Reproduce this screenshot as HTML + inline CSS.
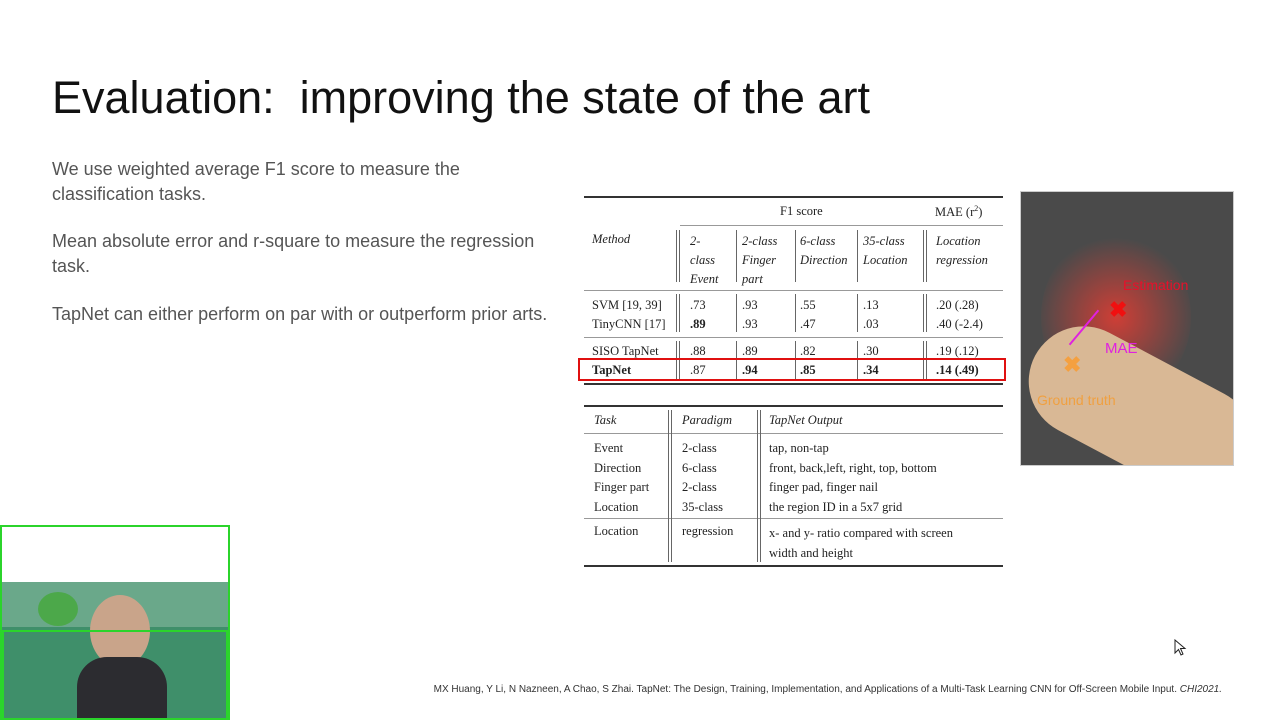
<!DOCTYPE html>
<html><head><meta charset="utf-8"><style>
body{margin:0;width:1280px;height:720px;background:#fff;position:relative;overflow:hidden;font-family:"Liberation Sans",sans-serif}
.a{position:absolute;white-space:nowrap}
.t{font-family:"Liberation Serif",serif;font-size:12.5px;color:#222}
.i{font-style:italic}
.b{font-weight:bold}
.hr{position:absolute;background:#333;height:1px}
.vr{position:absolute;width:1px;background:#666}
.p{color:#555;font-size:18px;line-height:25px}
</style></head><body>
<div class="a" style="left:52px;top:72px;font-size:45px;color:#111">Evaluation:&nbsp; improving the state of the art</div>
<div class="a p" style="left:52px;top:157px">We use weighted average F1 score to measure the<br>classification tasks.</div>
<div class="a p" style="left:52px;top:229px">Mean absolute error and r-square to measure the regression<br>task.</div>
<div class="a p" style="left:52px;top:302px">TapNet can either perform on par with or outperform prior arts.</div>

<div>
<div class="hr" style="left:584px;top:196px;width:419px;height:1.5px"></div>
<div class="a t" style="left:780px;top:204px">F1 score</div>
<div class="a t" style="left:935px;top:204px">MAE (r<sup style="font-size:8px">2</sup>)</div>
<div class="hr" style="left:680px;top:225px;width:323px;background:#999"></div>
<div class="a t i" style="left:592px;top:232px">Method</div>
<div class="a t i" style="left:690px;top:232px;line-height:19px">2-<br>class<br>Event</div>
<div class="a t i" style="left:742px;top:232px;line-height:19px">2-class<br>Finger<br>part</div>
<div class="a t i" style="left:800px;top:232px;line-height:19px">6-class<br>Direction</div>
<div class="a t i" style="left:863px;top:232px;line-height:19px">35-class<br>Location</div>
<div class="a t i" style="left:936px;top:232px;line-height:19px">Location<br>regression</div>
<div class="hr" style="left:584px;top:290px;width:419px;background:#999"></div>
<div class="a t" style="left:592px;top:296px;line-height:19px">SVM [19, 39]<br>TinyCNN [17]</div>
<div class="a t" style="left:690px;top:296px;line-height:19px">.73<br><b>.89</b></div>
<div class="a t" style="left:742px;top:296px;line-height:19px">.93<br>.93</div>
<div class="a t" style="left:800px;top:296px;line-height:19px">.55<br>.47</div>
<div class="a t" style="left:863px;top:296px;line-height:19px">.13<br>.03</div>
<div class="a t" style="left:936px;top:296px;line-height:19px">.20 (.28)<br>.40 (-2.4)</div>
<div class="hr" style="left:584px;top:337px;width:419px;background:#999"></div>
<div class="a t" style="left:592px;top:342px;line-height:19px">SISO TapNet<br><b>TapNet</b></div>
<div class="a t" style="left:690px;top:342px;line-height:19px">.88<br>.87</div>
<div class="a t" style="left:742px;top:342px;line-height:19px">.89<br><b>.94</b></div>
<div class="a t" style="left:800px;top:342px;line-height:19px">.82<br><b>.85</b></div>
<div class="a t" style="left:863px;top:342px;line-height:19px">.30<br><b>.34</b></div>
<div class="a t" style="left:936px;top:342px;line-height:19px">.19 (.12)<br><b>.14 (.49)</b></div>
<div class="hr" style="left:584px;top:383px;width:419px;height:1.5px"></div>
<div class="vr" style="left:676px;top:230px;height:52px"></div><div class="vr" style="left:679px;top:230px;height:52px"></div>
<div class="vr" style="left:736px;top:230px;height:52px"></div>
<div class="vr" style="left:795px;top:230px;height:52px"></div>
<div class="vr" style="left:857px;top:230px;height:52px"></div>
<div class="vr" style="left:923px;top:230px;height:52px"></div><div class="vr" style="left:926px;top:230px;height:52px"></div>
<div class="vr" style="left:676px;top:294px;height:38px"></div><div class="vr" style="left:679px;top:294px;height:38px"></div>
<div class="vr" style="left:736px;top:294px;height:38px"></div><div class="vr" style="left:795px;top:294px;height:38px"></div><div class="vr" style="left:857px;top:294px;height:38px"></div>
<div class="vr" style="left:923px;top:294px;height:38px"></div><div class="vr" style="left:926px;top:294px;height:38px"></div>
<div class="vr" style="left:676px;top:341px;height:38px"></div><div class="vr" style="left:679px;top:341px;height:38px"></div>
<div class="vr" style="left:736px;top:341px;height:38px"></div><div class="vr" style="left:795px;top:341px;height:38px"></div><div class="vr" style="left:857px;top:341px;height:38px"></div>
<div class="vr" style="left:923px;top:341px;height:38px"></div><div class="vr" style="left:926px;top:341px;height:38px"></div>
<div class="a" style="left:578px;top:358px;width:424px;height:19px;border:2px solid #e01010"></div>
</div>

<div>
<div class="hr" style="left:584px;top:405px;width:419px;height:1.5px"></div>
<div class="a t i" style="left:594px;top:413px">Task</div>
<div class="a t i" style="left:682px;top:413px">Paradigm</div>
<div class="a t i" style="left:769px;top:413px">TapNet Output</div>
<div class="hr" style="left:584px;top:433px;width:419px;background:#999"></div>
<div class="a t" style="left:594px;top:439px;line-height:19.5px">Event<br>Direction<br>Finger part<br>Location</div>
<div class="a t" style="left:682px;top:439px;line-height:19.5px">2-class<br>6-class<br>2-class<br>35-class</div>
<div class="a t" style="left:769px;top:439px;line-height:19.5px">tap, non-tap<br>front, back,left, right, top, bottom<br>finger pad, finger nail<br>the region ID in a 5x7 grid</div>
<div class="hr" style="left:584px;top:518px;width:419px;background:#999"></div>
<div class="a t" style="left:594px;top:524px">Location</div>
<div class="a t" style="left:682px;top:524px">regression</div>
<div class="a t" style="left:769px;top:524px;line-height:19.5px">x- and y- ratio compared with screen<br>width and height</div>
<div class="hr" style="left:584px;top:565px;width:419px;height:1.5px"></div>
<div class="vr" style="left:668px;top:410px;height:152px"></div><div class="vr" style="left:671px;top:410px;height:152px"></div>
<div class="vr" style="left:757px;top:410px;height:152px"></div><div class="vr" style="left:760px;top:410px;height:152px"></div>
</div>

<div class="a" style="left:1021px;top:192px;width:212px;height:273px;overflow:hidden;background:#4a4a4a;outline:1px solid #ccc">
<div class="a" style="left:20px;top:40px;width:150px;height:170px;border-radius:50%;background:radial-gradient(circle,rgba(230,60,50,.85),rgba(200,60,50,0) 70%)"></div>
<div class="a" style="left:40px;top:115px;width:240px;height:110px;border-radius:55px;background:#d9b895;transform:rotate(28deg);transform-origin:0 0"></div>
<div class="a" style="left:102px;top:85px;color:#e8102a;font-size:14px">Estimation</div>
<div class="a" style="left:88px;top:105px;color:#f01010;font-size:22px;font-weight:bold">✖</div>
<div class="a" style="left:84px;top:148px;color:#e020e0;font-size:15px">MAE</div>
<div class="a" style="left:62px;top:113px;width:2px;height:45px;background:#e020e0;transform:rotate(40deg)"></div>
<div class="a" style="left:42px;top:160px;color:#f4a040;font-size:22px;font-weight:bold">✖</div>
<div class="a" style="left:16px;top:200px;color:#f0a040;font-size:14px">Ground truth</div>
</div>

<div class="a" style="left:0;top:525px;width:226px;height:191px;border:2px solid #2bd42b;background:#fff;overflow:hidden">
<div class="a" style="left:0;top:55px;width:226px;height:140px;background:#6aa88a"></div>
<div class="a" style="left:0;top:100px;width:226px;height:95px;background:#3f8f6a"></div>
<div class="a" style="left:88px;top:68px;width:60px;height:72px;border-radius:50%;background:#c9a48a"></div>
<div class="a" style="left:75px;top:130px;width:90px;height:70px;border-radius:30px 30px 0 0;background:#2c2c30"></div>
<div class="a" style="left:36px;top:65px;width:40px;height:34px;border-radius:50%;background:#4ca84a"></div>
</div>
<div class="a" style="left:2px;top:630px;width:222px;height:86px;border:2px solid #2bd42b"></div>

<div class="a" style="right:58px;top:684px;font-size:10px;color:#333">MX Huang, Y Li, N Nazneen, A Chao, S Zhai. TapNet: The Design, Training, Implementation, and Applications of a Multi-Task Learning CNN for Off-Screen Mobile Input. <i>CHI2021.</i></div>
<svg class="a" style="left:1174px;top:639px" width="14" height="18"><path d="M1 1 L1 14 L4.5 10.5 L7 16 L9 15 L6.5 9.5 L11 9.5 Z" fill="#fff" stroke="#222" stroke-width="1"/></svg>
</body></html>
